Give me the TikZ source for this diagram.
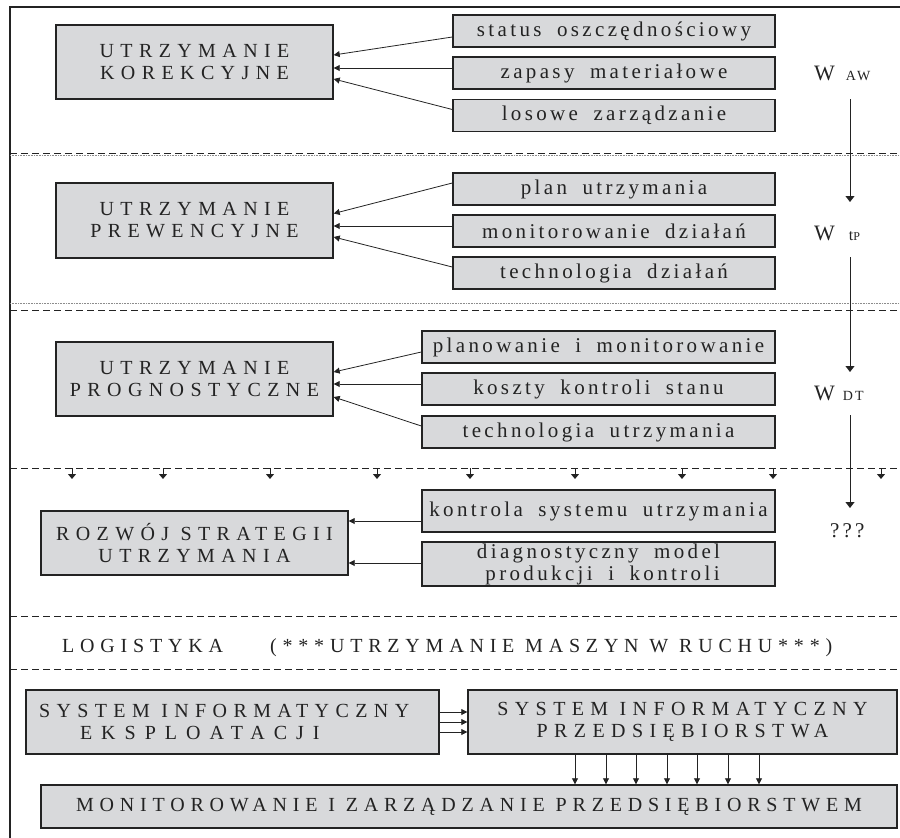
\documentclass[tikz,border=0pt]{standalone}
\usepackage{fontspec}
\setmainfont{Liberation Serif}
\newfontfamily\fTitle[LetterSpace=32]{Liberation Serif}
\newfontfamily\fTitleN[LetterSpace=29]{Liberation Serif}
\newfontfamily\fTitleW[LetterSpace=45]{Liberation Serif}
\newfontfamily\fSmall[LetterSpace=16,WordSpace=1.8]{Liberation Serif}
\newfontfamily\fSub[LetterSpace=15]{Liberation Serif}
\usetikzlibrary{arrows.meta,calc}
\definecolor{boxgray}{RGB}{216,217,219}
\definecolor{ink}{RGB}{35,35,35}
\begin{document}
\begin{tikzpicture}[x=1pt,y=-1pt,
  box/.style={draw=ink, line width=1.4pt, fill=boxgray, inner sep=0pt, align=center, text=ink},
  titlebox/.style={box, font=\fTitle\fontsize{20}{22}\selectfont},
  itembox/.style={box, font=\fSmall\fontsize{21}{22}\selectfont, minimum height=32pt},
  itemA/.style={itembox, minimum width=322pt},
  itemB/.style={itembox, minimum width=353pt},
  arr/.style={draw=ink, line width=0.8pt, -{Triangle[length=6pt,width=6pt]}},
  varr/.style={draw=ink, line width=1pt, -{Triangle[length=6pt,width=9pt]}},
  sarr/.style={draw=ink, line width=1pt, -{Triangle[length=5pt,width=8pt]}},
  sep/.style={draw=ink, line width=1pt, dash pattern=on 7pt off 4pt},
  dots/.style={draw=black!45, line width=0.6pt, dash pattern=on 0.8pt off 0.8pt},
  lbl/.style={inner sep=0pt, text=ink, anchor=base west}
]
\useasboundingbox (0,0) rectangle (900,838);

% frame
\draw[ink, line width=1.4pt] (900,7) -- (10,7) -- (10,838);

% separators
\draw[sep] (10,153) -- (900,153);
\draw[dots] (10,155.5) -- (900,155.5);
\draw[dots] (10,303) -- (900,303);
\draw[sep] (10,310) -- (900,310);
\draw[sep] (10,468) -- (900,468);
\draw[sep] (10,616) -- (900,616);
\draw[sep] (10,669) -- (900,669);

% left boxes
\node[titlebox, minimum width=277pt, minimum height=74pt] (uk) at (194.5,62) {UTRZYMANIE\\KOREKCYJNE};
\node[titlebox, minimum width=277pt, minimum height=75pt] (up) at (194.5,220.5) {UTRZYMANIE\\PREWENCYJNE};
\node[titlebox, minimum width=277pt, minimum height=74pt] (ug) at (194.5,379) {UTRZYMANIE\\PROGNOSTYCZNE};
\node[titlebox, minimum width=307pt, minimum height=64pt] (rs) at (194.5,543) {ROZWÓJ STRATEGII\\UTRZYMANIA};

% right boxes
\node[itemA] (status) at (614,31) {status oszczędnościowy};
\node[itemA] (zapasy) at (614,73) {zapasy materiałowe};
\node[itemA] (losowe) at (614,115.5) {losowe zarządzanie};
\node[itemA] (plan) at (614,189) {plan utrzymania};
\node[itemA] (monit) at (614,231) {monitorowanie działań};
\node[itemA] (techd) at (614,273) {technologia działań};
\node[itemB] (planow) at (598.5,347) {planowanie i monitorowanie};
\node[itemB] (koszty) at (598.5,389) {koszty kontroli stanu};
\node[itemB] (techu) at (598.5,432) {technologia utrzymania};
\node[itemB, minimum height=42pt] (kontr) at (598.5,511) {kontrola systemu utrzymania};
\node[itemB, minimum height=44pt] (diag) at (598.5,564) {diagnostyczny model\\\hspace*{8pt}produkcji i kontroli};

% arrows into left boxes
\draw[arr] ($(status.west)+(0,6)$) -- ($(uk.east)+(0,-7)$);
\draw[arr] ($(zapasy.west)+(0,-5)$) -- ($(uk.east)+(0,6)$);
\draw[arr] ($(losowe.west)+(0,-6)$) -- ($(uk.east)+(0,17)$);
\draw[arr] ($(plan.west)+(0,-6)$) -- ($(up.east)+(0,-7)$);
\draw[arr] ($(monit.west)+(0,-5)$) -- ($(up.east)+(0,5.5)$);
\draw[arr] ($(techd.west)+(0,-6)$) -- ($(up.east)+(0,16.5)$);
\draw[arr] ($(planow.west)+(0,5)$) -- ($(ug.east)+(0,-7)$);
\draw[arr] ($(koszty.west)+(0,-5)$) -- ($(ug.east)+(0,5)$);
\draw[arr] ($(techu.west)+(0,-6)$) -- ($(ug.east)+(0,18)$);
\draw[arr] ($(kontr.west)+(0,10)$) -- ($(rs.east)+(0,-22)$);
\draw[arr] ($(diag.west)+(0,-1)$) -- ($(rs.east)+(0,20)$);

% right column labels and arrows
\node[lbl, font=\fontsize{22}{22}\selectfont] (waw) at (814,80) {W\hspace{11pt}{\fSub\fontsize{14}{14}\selectfont AW}};
\node[lbl, font=\fontsize{22}{22}\selectfont] (wtp) at (814,240) {W\hspace{14pt}{\fSub\fontsize{16}{16}\selectfont t{\fontsize{12}{12}\selectfont P}}};
\node[lbl, font=\fontsize{22}{22}\selectfont] (wdt) at (814,400) {W\hspace{8pt}{\fSub\fontsize{14}{14}\selectfont DT}};
\node[lbl, font=\fSub\fontsize{21}{22}\selectfont] (qqq) at (830,537) {???};

\coordinate (a1) at (850,99);  \coordinate (b1) at (850,202);
\coordinate (a2) at (850,257); \coordinate (b2) at (850,372);
\coordinate (a3) at (850,415); \coordinate (b3) at (850,508);
\draw[varr] (a1) -- (b1);
\draw[varr] (a2) -- (b2);
\draw[varr] (a3) -- (b3);

% small arrows on separator
\foreach \x [count=\i] in {72,163,270,377,470,575,682,773,881} {
  \coordinate (s\i) at (\x,468);
  \coordinate (t\i) at (\x,479);
  \draw[sarr] (s\i) -- (t\i);
}

% logistics line
\node[lbl, font=\fTitleN\fontsize{20}{22}\selectfont] (logi) at (62,652) {LOGISTYKA};
\node[lbl, font=\fTitleN\fontsize{20}{22}\selectfont] (ruch) at (270,652) {(***UTRZYMANIE MASZYN W RUCHU***)};

% bottom boxes
\node[titlebox, minimum width=413pt, minimum height=64pt, align=left] (sie) at (232.5,722) {\makebox[387pt][l]{SYSTEM INFORMATYCZNY}\\\hspace*{41pt}{\fTitleW EKSPLOATACJI}};
\node[titlebox, minimum width=429pt, minimum height=64pt] (sip) at (682.5,722) {SYSTEM INFORMATYCZNY\\PRZEDSIĘBIORSTWA};
\node[titlebox, font=\fTitleN\fontsize{20}{22}\selectfont, minimum width=856pt, minimum height=43pt] (mon) at (469,806.5) {MONITOROWANIE I ZARZĄDZANIE PRZEDSIĘBIORSTWEM};

\draw[arr] ($(sie.east)+(0,-10)$) -- ($(sip.west)+(0,-10)$);
\draw[arr] (sie.east) -- (sip.west);
\draw[arr] ($(sie.east)+(0,10)$) -- ($(sip.west)+(0,10)$);

\foreach \x in {575,606,636,667,697,728,759} {
  \draw[arr] (sip.south -| \x,0) -- (mon.north -| \x,0);
}
\end{tikzpicture}
\end{document}
